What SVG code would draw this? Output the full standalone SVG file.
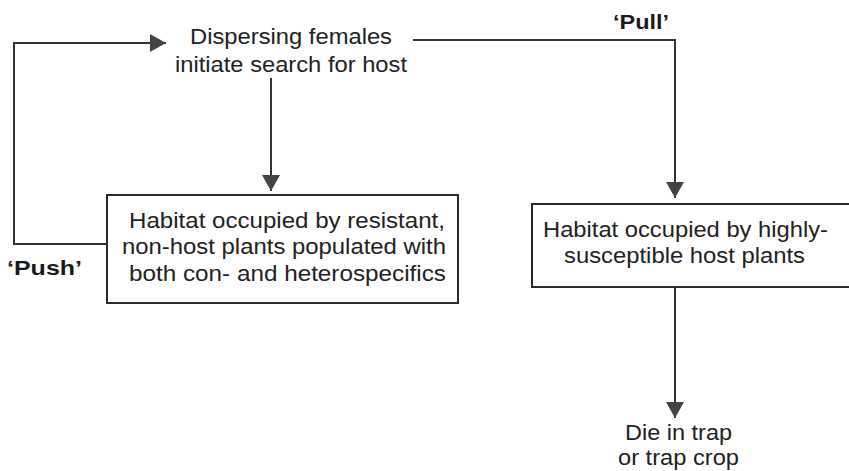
<svg xmlns="http://www.w3.org/2000/svg" width="849" height="471" viewBox="0 0 849 471">
  <style>
    .box { fill: #ffffff; stroke: #2a2a2a; stroke-width: 2; }
    .wire { fill: none; stroke: #333333; stroke-width: 2; }
    .label { font-family: "Liberation Sans", Arial, sans-serif; font-size: 22px; fill: #222222; }
    .tag { font-family: "Liberation Sans", Arial, sans-serif; font-size: 21px; font-weight: bold; fill: #1a1a1a; }
  </style>
  <defs>
    <marker id="head" markerUnits="userSpaceOnUse" markerWidth="17" markerHeight="18" refX="16" refY="9" orient="auto">
      <path d="M0,0 L16,9 L0,18 Z" fill="#444444"/>
    </marker>
  </defs>

  <rect width="849" height="471" fill="#ffffff"/>

  <!-- connectors -->
  <g id="connectors">
    <!-- push loop back to the searching females -->
    <polyline class="wire" points="107,244 14,244 14,43 166,43" marker-end="url(#head)"/>
    <!-- search leads down into the non-host habitat -->
    <line class="wire" x1="271" y1="78" x2="271" y2="191" marker-end="url(#head)"/>
    <!-- pull towards the host habitat -->
    <polyline class="wire" points="413,40 675,40 675,198" marker-end="url(#head)"/>
    <!-- host habitat to trap -->
    <line class="wire" x1="675" y1="288" x2="675" y2="418" marker-end="url(#head)"/>
  </g>

  <g id="search">
    <text class="label" x="190" y="44" textLength="202" lengthAdjust="spacingAndGlyphs">Dispersing females</text>
    <text class="label" x="175" y="72" textLength="232" lengthAdjust="spacingAndGlyphs">initiate search for host</text>
  </g>

  <g id="nonhost-habitat">
    <rect class="box" x="107" y="195" width="351" height="108"/>
    <text class="label" x="129" y="228" textLength="316" lengthAdjust="spacingAndGlyphs">Habitat occupied by resistant,</text>
    <text class="label" x="122" y="254" textLength="324" lengthAdjust="spacingAndGlyphs">non-host plants populated with</text>
    <text class="label" x="129" y="281" textLength="317" lengthAdjust="spacingAndGlyphs">both con- and heterospecifics</text>
  </g>

  <g id="host-habitat">
    <rect class="box" x="532" y="204" width="330" height="83"/>
    <text class="label" x="543" y="237" textLength="285" lengthAdjust="spacingAndGlyphs">Habitat occupied by highly-</text>
    <text class="label" x="564" y="263" textLength="241" lengthAdjust="spacingAndGlyphs">susceptible host plants</text>
  </g>

  <g id="trap">
    <text class="label" x="625" y="440" textLength="107" lengthAdjust="spacingAndGlyphs">Die in trap</text>
    <text class="label" x="618" y="465" textLength="121" lengthAdjust="spacingAndGlyphs">or trap crop</text>
  </g>

  <g id="push-label">
    <text class="tag" x="7" y="275" textLength="75" lengthAdjust="spacingAndGlyphs">‘Push’</text>
  </g>
  <g id="pull-label">
    <text class="tag" x="613" y="29" textLength="56" lengthAdjust="spacingAndGlyphs">‘Pull’</text>
  </g>
</svg>
